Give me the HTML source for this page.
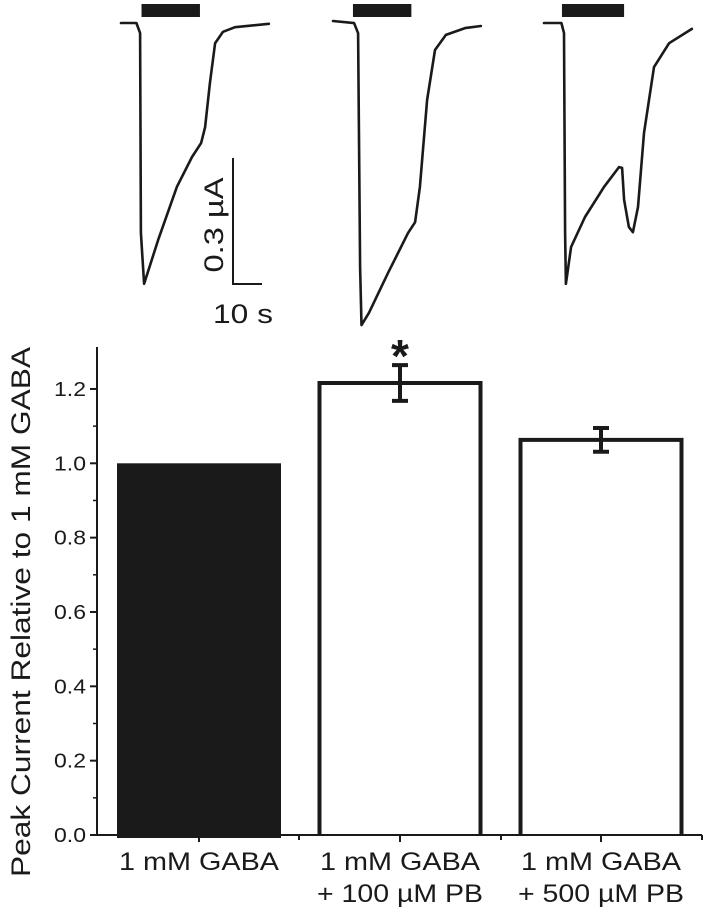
<!DOCTYPE html>
<html><head><meta charset="utf-8"><style>
html,body{margin:0;padding:0;background:#fff;width:703px;height:918px;overflow:hidden}
svg{display:block;font-family:"Liberation Sans",sans-serif}
</style></head><body>
<svg id="fig" width="703" height="918" viewBox="0 0 703 918">
<g id="traces"></g>
<g id="scalebar">
<path d="M233,158 V284 H262" fill="none" stroke="#1a1a1a" stroke-width="2"/>
<text x="0" y="0" transform="translate(223,225) rotate(-90)" text-anchor="middle" font-size="27" textLength="95" lengthAdjust="spacingAndGlyphs" fill="#1a1a1a">0.3 µA</text>
<text x="243" y="323" text-anchor="middle" font-size="27" textLength="60" lengthAdjust="spacingAndGlyphs" fill="#1a1a1a">10 s</text>
</g>
<g id="chart"></g>
</svg>
<script>
// ---- trace data: time (s) and current (µA) ----
const trace1T=[0,5.4,6.7,7.0,8.1,13.0,19.6,24.9,28.1,29.5,31.2,33.0,35.8,40.0,51.9];
const trace1I=[0,0,-0.024,-0.5,-0.621,-0.517,-0.39,-0.319,-0.286,-0.248,-0.143,-0.048,-0.021,-0.01,-0.002];
const trace2T=[0,7.4,8.8,9.5,10.0,12.6,19.3,26.3,28.8,30.5,33.0,35.8,39.6,46.3,51.9];
const trace2I=[0,-0.005,-0.029,-0.586,-0.724,-0.695,-0.6,-0.505,-0.479,-0.395,-0.188,-0.069,-0.033,-0.017,-0.012];
const trace3T=[0,6.1,7.0,7.4,7.7,9.5,14.4,21.1,26.3,27.4,28.1,29.8,31.2,33.0,35.1,38.6,43.9,51.9];
const trace3I=[0,0,-0.024,-0.5,-0.621,-0.533,-0.462,-0.39,-0.343,-0.345,-0.421,-0.486,-0.498,-0.438,-0.262,-0.105,-0.048,-0.014];
const appStart=[7.2,7.0,6.3];
const appEnd=[27.7,27.5,28.1];
// ---- bar data ----
const categories=[["1 mM GABA"],["1 mM GABA","+ 100 µM PB"],["1 mM GABA","+ 500 µM PB"]];
const values=[1.0,1.216,1.063];
const errors=[0,0.048,0.032];
const significant=[false,true,false];
const yTicks=[0,0.2,0.4,0.6,0.8,1.0,1.2];
const yTickLabels=["0.0","0.2","0.4","0.6","0.8","1.0","1.2"];

const NS="http://www.w3.org/2000/svg";
function mk(tag,attrs,parent){const e=document.createElementNS(NS,tag);for(const k in attrs)e.setAttribute(k,attrs[k]);parent.appendChild(e);return e;}

const tr=document.getElementById('traces');
const origins=[[121,23],[333,21],[544,23]];
const pxPerS=2.85, pxPerUA=420;
const allT=[trace1T,trace2T,trace3T], allI=[trace1I,trace2I,trace3I];
for(let k=0;k<3;k++){
  const [x0,y0]=origins[k];
  const tx=t=>x0+t*pxPerS, iy=i=>y0-i*pxPerUA;
  const pts=allT[k].map((t,j)=>tx(t).toFixed(1)+","+iy(allI[k][j]).toFixed(1)).join(" ");
  const pl=mk('polyline',{points:pts,fill:'none',stroke:'#1a1a1a','stroke-width':2.6,'stroke-linejoin':'round','stroke-linecap':'round'},tr);
  
  
  const r=mk('rect',{x:tx(appStart[k]),y:4,width:(appEnd[k]-appStart[k])*pxPerS,height:13,fill:'#1a1a1a'},tr);
  
  
}

const ch=document.getElementById('chart');
const axX=97, y0=835, yTop=347, xEnd=702;
const yScale=v=>y0-v*371.7;
const centers=[199,400,601], halfW=82;
const ink='#1a1a1a';
for(let i=0;i<values.length;i++){
  const yv=yScale(values[i]);
  let b;
  if(i===0){b=mk('rect',{x:centers[i]-halfW,y:yv,width:halfW*2,height:y0-yv+3,fill:ink},ch);}
  else{b=mk('path',{d:`M${centers[i]-halfW+1.5},${y0} V${yv} H${centers[i]+halfW-1.5} V${y0}`,fill:'#fff',stroke:ink,'stroke-width':4},ch);}
  
  
  if(errors[i]>0){
    const yt=yScale(values[i]+errors[i]), yb=yScale(values[i]-errors[i]);
    const e=mk('path',{d:`M${centers[i]},${yt} V${yb} M${centers[i]-8},${yt} H${centers[i]+8} M${centers[i]-8},${yb} H${centers[i]+8}`,stroke:ink,'stroke-width':4,fill:'none'},ch);
    
    
  }
  if(significant[i]){
    const s=mk('text',{x:centers[i],y:yScale(values[i]+errors[i])+7,'text-anchor':'middle','font-size':46,'font-weight':'bold',fill:ink},ch);
    s.textContent='*';
    
    
  }
  categories[i].forEach((ln,j)=>{
    const t=mk('text',{x:centers[i],y:870+j*32,'text-anchor':'middle','font-size':25,textLength:j===0?160:166,lengthAdjust:'spacingAndGlyphs',fill:ink},ch);
    t.textContent=ln;
    
    
  });
}
const ya=mk('line',{x1:axX,y1:yTop,x2:axX,y2:y0+1,stroke:ink,'stroke-width':2},ch);


const xa=mk('line',{x1:axX-1,y1:y0,x2:xEnd,y2:y0,stroke:ink,'stroke-width':2},ch);


yTicks.forEach((v,i)=>{
  const y=yScale(v);
  mk('line',{x1:axX-7,y1:y,x2:axX,y2:y,stroke:ink,'stroke-width':2},ch);
  if(i<yTicks.length-1){const ym=yScale(v+0.1);mk('line',{x1:axX-4,y1:ym,x2:axX,y2:ym,stroke:ink,'stroke-width':1.5},ch);}
  const t=mk('text',{x:axX-11,y:y+7,'text-anchor':'end','font-size':20,textLength:32,lengthAdjust:'spacingAndGlyphs',fill:ink},ch);
  t.textContent=yTickLabels[i];
  
  
});
centers.forEach(c=>mk('line',{x1:c,y1:y0,x2:c,y2:y0+7,stroke:ink,'stroke-width':2},ch));
[299,501,702].forEach(c=>mk('line',{x1:c,y1:y0,x2:c,y2:y0+5,stroke:ink,'stroke-width':2},ch));
const yt=mk('text',{transform:'translate(30,612) rotate(-90)','text-anchor':'middle','font-size':27,textLength:530,lengthAdjust:'spacingAndGlyphs',fill:ink},ch);
yt.textContent='Peak Current Relative to 1 mM GABA';


</script>
</body></html>
